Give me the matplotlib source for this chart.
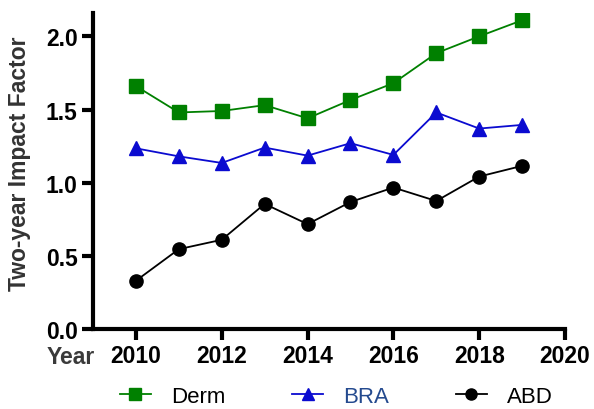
import numpy as np
import matplotlib.pyplot as plt
from matplotlib.ticker import FormatStrFormatter

# ── Veriler ───────────────────────────────────────────────────────────────
years = [2010, 2011, 2012, 2013, 2014, 2015, 2016, 2017, 2018, 2019]
derm = [1.66, 1.48, 1.49, 1.53, 1.44, 1.565, 1.68, 1.885, 2.00, 2.11]
bra  = [1.235, 1.18, 1.135, 1.24, 1.185, 1.27, 1.19, 1.48, 1.37, 1.395]
abd  = [0.33, 0.546, 0.61, 0.855, 0.717, 0.868, 0.967, 0.875, 1.042, 1.115]

xticks = [2010, 2012, 2014, 2016, 2018, 2020]
yticks = [0.0, 0.5, 1.0, 1.5, 2.0]

plt.rcParams["font.family"] = ["Liberation Sans", "DejaVu Sans"]

fig = plt.figure(figsize=(5.94, 4.10), dpi=100)
ax = fig.add_axes([0.1566, 0.195, 0.7946, 0.771])

ax.plot(years, derm, color="#008000", lw=1.3, marker="s", ms=10, label="Derm")
ax.plot(years, bra, color="#0b0bd0", lw=1.3, marker="^", ms=10, label="BRA")
ax.plot(years, abd, color="black", lw=1.3, marker="o", ms=9.5, label="ABD")

ax.set_xlim(2009, 2020)
ax.set_ylim(0, 2.16)
ax.set_xticks(xticks)
ax.set_yticks(yticks)
ax.yaxis.set_major_formatter(FormatStrFormatter("%.1f"))

for s in ["top", "right"]:
    ax.spines[s].set_visible(False)
for s in ["left", "bottom"]:
    ax.spines[s].set_linewidth(3)
ax.tick_params(width=3, length=8, labelsize=16.5, pad=3)
for lab in ax.get_xticklabels() + ax.get_yticklabels():
    lab.set_fontweight("bold")

# eksen başlıkları
fig.text(20 / 594, 1 - 164 / 410, "Two-year Impact Factor", fontsize=16.5,
         fontweight="bold", color="#333333", rotation=90,
         ha="center", va="center")
fig.text(47 / 594, 1 - 358 / 410, "Year", fontsize=16.5, fontweight="bold",
         color="#3a3a3a", va="center", ha="left")

leg = fig.legend(loc="center", bbox_to_anchor=(0.566, 0.03), ncol=3,
                 frameon=False, fontsize=16, handlelength=1.4,
                 handletextpad=0.9, columnspacing=3.0, borderpad=0.1)
for m in leg.legend_handles:
    m.set_markersize(8)
leg.get_texts()[1].set_color("#244a8f")

plt.savefig("out.png", dpi=100)
